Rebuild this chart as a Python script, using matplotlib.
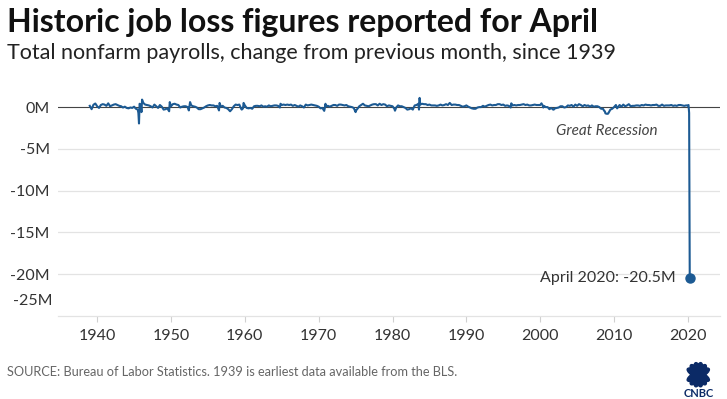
import matplotlib
matplotlib.use("Agg")
import matplotlib.pyplot as plt
import matplotlib.transforms as mtransforms
from matplotlib.patches import Ellipse
import pandas as pd

plt.rcParams['font.family'] = ['Lato', 'DejaVu Sans']

# Monthly change in total nonfarm payrolls (thousands)
months = [
    "1939-01", "1939-04", "1939-07", "1939-10",
    "1940-01", "1940-04", "1940-07", "1940-10",
    "1941-01", "1941-04", "1941-07", "1941-10",
    "1942-01", "1942-04", "1942-07", "1942-10",
    "1943-01", "1943-04", "1943-07", "1943-10",
    "1944-01", "1944-04", "1944-07", "1944-10",
    "1945-01", "1945-04", "1945-07", "1945-08", "1945-09", "1945-10", "1945-12",
    "1946-01", "1946-02", "1946-04", "1946-07", "1946-10",
    "1947-01", "1947-04", "1947-07", "1947-10",
    "1948-01", "1948-04", "1948-07", "1948-10",
    "1949-01", "1949-04", "1949-07", "1949-10", "1949-11",
    "1950-01", "1950-04", "1950-07", "1950-10",
    "1951-01", "1951-04", "1951-07", "1951-10",
    "1952-01", "1952-04", "1952-06", "1952-08", "1952-10",
    "1953-01", "1953-04", "1953-07", "1953-10",
    "1954-01", "1954-04", "1954-07", "1954-10",
    "1955-01", "1955-04", "1955-07", "1955-10",
    "1956-01", "1956-04", "1956-07", "1956-08", "1956-10",
    "1957-01", "1957-04", "1957-07", "1957-10",
    "1958-01", "1958-04", "1958-07", "1958-10",
    "1959-01", "1959-04", "1959-07", "1959-08", "1959-10", "1959-11",
    "1960-01", "1960-04", "1960-07", "1960-10",
    "1961-01", "1961-04", "1961-07", "1961-10",
    "1962-01", "1962-04", "1962-07", "1962-10",
    "1963-01", "1963-04", "1963-07", "1963-10",
    "1964-01", "1964-04", "1964-07", "1964-10", "1964-11",
    "1965-01", "1965-04", "1965-07", "1965-10",
    "1966-01", "1966-04", "1966-07", "1966-10",
    "1967-01", "1967-04", "1967-07", "1967-10",
    "1968-01", "1968-04", "1968-07", "1968-10",
    "1969-01", "1969-04", "1969-07", "1969-10",
    "1970-01", "1970-04", "1970-07", "1970-10", "1970-11", "1970-12",
    "1971-01", "1971-04", "1971-07", "1971-10",
    "1972-01", "1972-04", "1972-07", "1972-10",
    "1973-01", "1973-04", "1973-07", "1973-10",
    "1974-01", "1974-04", "1974-07", "1974-10",
    "1975-01", "1975-02", "1975-04", "1975-07", "1975-10",
    "1976-01", "1976-04", "1976-07", "1976-10",
    "1977-01", "1977-04", "1977-07", "1977-10",
    "1978-01", "1978-04", "1978-07", "1978-10",
    "1979-01", "1979-04", "1979-07", "1979-10",
    "1980-01", "1980-04", "1980-05", "1980-07", "1980-10",
    "1981-01", "1981-04", "1981-07", "1981-10",
    "1982-01", "1982-04", "1982-07", "1982-10",
    "1983-01", "1983-04", "1983-07", "1983-08", "1983-09", "1983-10",
    "1984-01", "1984-04", "1984-07", "1984-10",
    "1985-01", "1985-04", "1985-07", "1985-10",
    "1986-01", "1986-04", "1986-07", "1986-10",
    "1987-01", "1987-04", "1987-07", "1987-10",
    "1988-01", "1988-04", "1988-07", "1988-10",
    "1989-01", "1989-04", "1989-07", "1989-10",
    "1990-01", "1990-04", "1990-07", "1990-10",
    "1991-01", "1991-04", "1991-07", "1991-10",
    "1992-01", "1992-04", "1992-07", "1992-10",
    "1993-01", "1993-04", "1993-07", "1993-10",
    "1994-01", "1994-04", "1994-07", "1994-10",
    "1995-01", "1995-04", "1995-07", "1995-10",
    "1996-01", "1996-02", "1996-04", "1996-07", "1996-10",
    "1997-01", "1997-04", "1997-07", "1997-10",
    "1998-01", "1998-04", "1998-07", "1998-10",
    "1999-01", "1999-04", "1999-07", "1999-10",
    "2000-01", "2000-03", "2000-05", "2000-06", "2000-07", "2000-10",
    "2001-01", "2001-04", "2001-07", "2001-10", "2001-11",
    "2002-01", "2002-04", "2002-07", "2002-10",
    "2003-01", "2003-04", "2003-07", "2003-10",
    "2004-01", "2004-04", "2004-07", "2004-10",
    "2005-01", "2005-04", "2005-07", "2005-10",
    "2006-01", "2006-04", "2006-07", "2006-10",
    "2007-01", "2007-04", "2007-07", "2007-10",
    "2008-01", "2008-04", "2008-07", "2008-09", "2008-10", "2008-11",
    "2009-01", "2009-03", "2009-04", "2009-07", "2009-10",
    "2010-01", "2010-04", "2010-06", "2010-07", "2010-10",
    "2011-01", "2011-04", "2011-07", "2011-10",
    "2012-01", "2012-04", "2012-07", "2012-10",
    "2013-01", "2013-04", "2013-07", "2013-10",
    "2014-01", "2014-04", "2014-07", "2014-10",
    "2015-01", "2015-04", "2015-07", "2015-10",
    "2016-01", "2016-04", "2016-07", "2016-10",
    "2017-01", "2017-04", "2017-07", "2017-10",
    "2018-01", "2018-04", "2018-07", "2018-10",
    "2019-01", "2019-04", "2019-07", "2019-10",
    "2020-01", "2020-02", "2020-03", "2020-04",
]
change_k = [
    150, -250, 280, 430,
    100, -100, 250, 350,
    300, 150, 450, 100,
    200, 300, 350, 250,
    150, 100, -50, 50,
    -100, -150, -50, -100,
    50, -200, -300, -700, -1960, 400, 200,
    -600, 900, 500, 300, 250,
    200, 100, -50, 300,
    100, -100, 250, 50,
    -300, -250, -150, -500, 600,
    100, 350, 400, 300,
    250, -50, 50, 100,
    100, 0, -400, 600, 200,
    100, 50, -50, -250,
    -250, -150, -50, 100,
    200, 250, 200, 200,
    100, 150, -400, 500, 50,
    150, -50, -100, -250,
    -500, -250, 100, 300,
    250, 300, -200, -300, -150, 500,
    200, -100, -150, -100,
    -200, 100, 150, 150,
    100, 200, 50, 100,
    50, 200, 100, 150,
    200, 200, 150, -50, 400,
    250, 300, 250, 300,
    250, 300, 150, 250,
    150, 50, 200, 100,
    -50, 300, 200, 250,
    300, 250, 200, 150,
    50, -150, -100, -450, -100, 400,
    100, 150, 50, 150,
    250, 250, 150, 300,
    300, 250, 200, 250,
    100, 50, 0, -100,
    -600, -380, -200, 100, 250,
    400, 200, 150, 100,
    200, 300, 350, 350,
    200, 400, 250, 350,
    300, 100, 200, 150,
    100, -200, -430, -50, 200,
    100, 100, 0, -100,
    -300, -250, -150, -300,
    200, 250, 400, -300, 1100, 300,
    400, 350, 350, 250,
    300, 200, 200, 200,
    150, 200, 300, 200,
    250, 350, 250, 500,
    250, 300, 300, 250,
    250, 150, 50, 100,
    200, 50, -50, -150,
    -200, -200, -50, 0,
    0, 150, 50, 150,
    250, 300, 200, 250,
    250, 350, 350, 250,
    300, 150, 200, 150,
    -50, 450, 200, 250, 200,
    250, 250, 300, 350,
    250, 300, 200, 200,
    250, 300, 250, 250,
    250, 450, 200, -50, 150, 0,
    0, -250, -100, -300, -300,
    -150, -100, -50, 100,
    100, -50, 0, 200,
    150, 250, 50, 300,
    150, 350, 250, 100,
    250, 150, 200, 50,
    200, 50, 100, 100,
    0, -200, -200, -450, -500, -750,
    -800, -800, -700, -300, -200,
    0, 250, -150, -50, 250,
    50, 300, 100, 200,
    350, 100, 150, 150,
    200, 200, 150, 250,
    200, 300, 250, 250,
    200, 250, 250, 300,
    150, 150, 300, 150,
    200, 200, 200, 250,
    150, 200, 150, 250,
    250, 200, 150, 200,
    200, 250, -700, -20500,
]

y_ticks = [0, -5, -10, -15, -20]
y_labels = ["0M", "-5M", "-10M", "-15M", "-20M"]
x_ticks = [1940, 1950, 1960, 1970, 1980, 1990, 2000, 2010, 2020]

dates = pd.to_datetime(months)
x = dates.year + (dates.month - 1) / 12
y = [v / 1000 for v in change_k]

line_color = '#1c5a93'
text_dark = '#333333'

fig = plt.figure(figsize=(7.27, 3.99), dpi=100)
ax = fig.add_axes([0.0798, 0.208, 0.9106, 0.555])

for t in [-5, -10, -15, -20]:
    ax.axhline(t, color='#e3e3e3', lw=0.9, zorder=0)
ax.axhline(0, color='#444444', lw=0.8, zorder=1)

ax.plot(x, y, color=line_color, lw=1.5, zorder=3, solid_joinstyle='round')
ax.plot(x[-1], y[-1], 'o', color=line_color, ms=6.5, zorder=4)

ax.set_xlim(1934.7, 2024.35)
ax.set_ylim(-25, 1.5)

ax.set_yticks(y_ticks)
ax.set_yticklabels(y_labels)
ax.set_xticks(x_ticks)
ax.tick_params(axis='y', length=0, pad=6, labelsize=11.5, labelcolor=text_dark)
ax.tick_params(axis='x', length=4, width=0.8, color='#d0d0d0', pad=5,
               labelsize=11.5, labelcolor=text_dark)
for side in ['top', 'right', 'left']:
    ax.spines[side].set_visible(False)
ax.spines['bottom'].set_color('#e3e3e3')
ax.spines['bottom'].set_linewidth(0.9)

# -25M label sits just above the bottom axis line
off = mtransforms.ScaledTranslation(0, 11 / 72, fig.dpi_scale_trans)
ax.text(-6 / 662, -25, "-25M", transform=ax.get_yaxis_transform() + off,
        ha='right', va='center', fontsize=11.5, color=text_dark)

ax.text(2009, -2.85, "Great Recession", ha='center', va='center',
        fontsize=11, style='italic', color='#444444')
ax.text(x[-1] - 1.9, y[-1], "April 2020: -20.5M", ha='right', va='center',
        fontsize=11.5, color=text_dark)

fig.text(0.01, 0.943, "Historic job loss figures reported for April",
         fontsize=23, fontweight='bold', color='#111111', va='center')
fig.text(0.01, 0.866, "Total nonfarm payrolls, change from previous month, since 1939",
         fontsize=15.5, color='#222222', va='center')
fig.text(0.01, 0.068, "SOURCE: Bureau of Labor Statistics. 1939 is earliest data available from the BLS.",
         fontsize=9.2, color='#666666', va='center')

# CNBC peacock mark
logo = fig.add_axes([0.928, 0.005, 0.065, 0.1])
logo.set_xlim(-1, 1)
logo.set_ylim(-0.6, 1.1)
logo.axis('off')
for ang in [-62, -37, -12, 12, 37, 62]:
    logo.add_patch(Ellipse((0, 0.35), 0.34, 1.05, angle=ang, color='#0b2a66'))
logo.text(0, -0.45, "CNBC", ha='center', va='center', fontsize=8,
          fontweight='bold', color='#0b2a66')

fig.savefig("out.png", dpi=100)
